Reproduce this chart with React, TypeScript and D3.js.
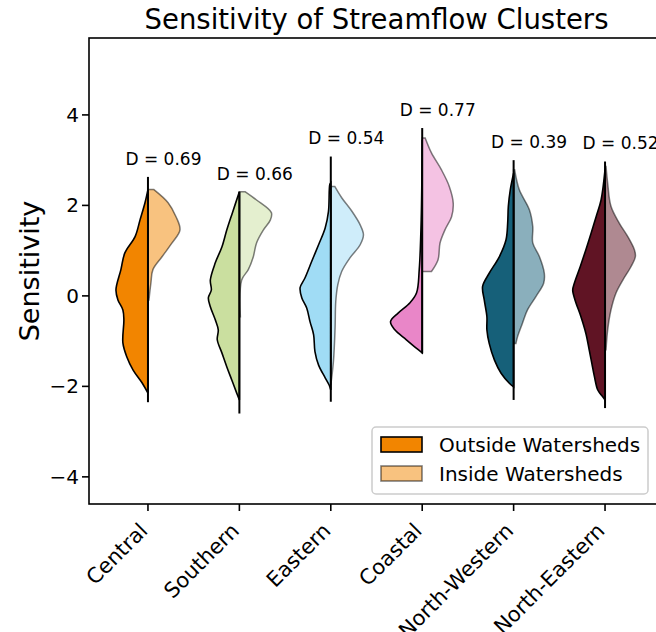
import React from "react";
import { scaleLinear, area, curveCatmullRom } from "d3";

// clusters, in plotting order
const clusters = ["Central", "Southern", "Eastern", "Coastal", "North-Western", "North-Eastern"];
const outsideColors = ["#f28500", "#cadf9f", "#a0dcf5", "#e986c8", "#166079", "#601424"];
const dValues = ["0.69", "0.66", "0.54", "0.77", "0.39", "0.52"];

// [sensitivity, relative density] (outside = left half)
const centralOut = [[2.35, 0], [2.06, 0.09], [1.68, 0.24], [1.31, 0.39], [0.95, 0.7], [0.58, 0.82], [0.13, 0.97], [-0.09, 0.91], [-0.31, 0.76], [-0.53, 0.73], [-1.04, 0.76], [-1.35, 0.64], [-1.64, 0.45], [-1.92, 0.18], [-2.15, 0]];
const centralIn = [[2.35, 0.18], [2.06, 0.61], [1.75, 0.85], [1.46, 0.97], [1.17, 0.73], [0.86, 0.42], [0.58, 0.15], [0.29, 0.09], [-0.09, 0.03]];
const southernOut = [[2.3, 0], [1.84, 0.21], [1.46, 0.38], [1.08, 0.53], [0.73, 0.73], [0.35, 0.88], [0.13, 0.85], [-0.04, 0.94], [-0.24, 0.88], [-0.53, 0.73], [-0.75, 0.64], [-0.97, 0.67], [-1.26, 0.53], [-1.57, 0.38], [-1.86, 0.23], [-2.15, 0.08], [-2.3, 0]];
const southernIn = [[2.3, 0.18], [2.12, 0.52], [1.84, 0.97], [1.68, 0.94], [1.46, 0.73], [1.17, 0.52], [0.86, 0.42], [0.58, 0.27], [0.35, 0.07], [-0.46, 0.03]];
const easternOut = [[2.5, 0], [2.46, 0.03], [1.87, 0.07], [1.5, 0.17], [1.13, 0.37], [0.76, 0.58], [0.4, 0.78], [0.18, 0.93], [-0.04, 0.88], [-0.27, 0.73], [-0.57, 0.63], [-0.86, 0.52], [-1.23, 0.48], [-1.53, 0.37], [-1.81, 0.17], [-1.97, 0.05], [-2.08, 0]];
const easternIn = [[2.42, 0.12], [2.17, 0.33], [1.87, 0.64], [1.57, 0.89], [1.35, 0.99], [1.13, 0.89], [0.84, 0.58], [0.54, 0.33], [0.24, 0.21], [-0.13, 0.15], [-0.71, 0.13], [-1.45, 0.08], [-1.97, 0]];
const coastalOut = [[3.45, 0], [1.68, 0.03], [0.58, 0.09], [0.07, 0.17], [-0.15, 0.37], [-0.38, 0.73], [-0.57, 0.96], [-0.75, 0.83], [-0.97, 0.48], [-1.19, 0.12], [-1.26, 0]];
const coastalIn = [[3.49, 0.09], [3.16, 0.28], [2.79, 0.58], [2.42, 0.82], [2.05, 0.94], [1.75, 0.89], [1.46, 0.69], [1.17, 0.54], [0.8, 0.48], [0.54, 0.28]];
const nwOut = [[2.71, 0], [2.35, 0.1], [1.98, 0.16], [1.61, 0.18], [1.24, 0.23], [0.87, 0.43], [0.5, 0.74], [0.21, 0.94], [-0.09, 0.89], [-0.46, 0.81], [-0.75, 0.81], [-1.05, 0.74], [-1.42, 0.58], [-1.71, 0.38], [-1.93, 0.13], [-2.01, 0]];
const nwIn = [[2.79, 0.03], [2.35, 0.17], [1.9, 0.48], [1.53, 0.58], [1.17, 0.58], [0.87, 0.78], [0.5, 0.93], [0.28, 0.91], [-0.01, 0.68], [-0.31, 0.42], [-0.6, 0.27], [-0.9, 0.12], [-1.05, 0.07]];
const neOut = [[2.79, 0], [2.12, 0.12], [1.75, 0.27], [1.39, 0.42], [1.02, 0.58], [0.65, 0.75], [0.28, 0.93], [0.13, 0.98], [-0.09, 0.91], [-0.46, 0.73], [-0.83, 0.58], [-1.19, 0.48], [-1.49, 0.4], [-1.79, 0.32], [-2.08, 0.22], [-2.23, 0.07], [-2.3, 0]];
const neIn = [[2.86, 0.03], [2.49, 0.08], [1.98, 0.18], [1.61, 0.43], [1.31, 0.69], [1.02, 0.89], [0.87, 0.92], [0.65, 0.79], [0.35, 0.54], [0.06, 0.33], [-0.31, 0.18], [-0.75, 0.08], [-1.19, 0.03]];

const outsideProfiles = [centralOut, southernOut, easternOut, coastalOut, nwOut, neOut];
const insideProfiles = [centralIn, southernIn, easternIn, coastalIn, nwIn, neIn];
// min / max of the central bar
const rangeMin = [-2.35, -2.6, -2.34, -1.27, -2.3, -2.48];
const rangeMax = [2.63, 2.3, 3.08, 3.71, 3.0, 2.97];

const yTicks = [-4, -2, 0, 2, 4];
const legendLabels = ["Outside Watersheds", "Inside Watersheds"];

const W = 656;
const H = 632;
const font = "DejaVu Sans, Verdana, sans-serif";

const fmt = (t: number) => (t < 0 ? "\u2212" + Math.abs(t) : String(t));

const App = () => {
    const x = scaleLinear().domain([-0.645, 5.645]).range([89, 664]);
    const y = scaleLinear().domain([-4.6, 5.7]).range([504, 38]);
    const w = scaleLinear().domain([0, 1]).range([0, 33]);

    const half = (cx: number, side: number) =>
        area<number[]>()
            .y((d) => y(d[0]))
            .x0(cx)
            .x1((d) => cx + side * w(d[1]))
            .curve(curveCatmullRom.alpha(0.5));

    const [left, right] = x.range();
    const [bottom, top] = y.range();

    return (
        <svg width={W} height={H} style={{ display: "block", fontFamily: font }}>
            <style>{`body{margin:0}`}</style>
            <rect width={W} height={H} fill="#fff" />

            {clusters.map((c, i) => {
                const cx = x(i);
                return (
                    <g key={c}>
                        <path
                            d={half(cx, 1)(insideProfiles[i]) || ""}
                            fill={outsideColors[i]}
                            fillOpacity={0.5}
                            stroke="#000"
                            strokeOpacity={0.5}
                            strokeWidth={1.5}
                        />
                        <path
                            d={half(cx, -1)(outsideProfiles[i]) || ""}
                            fill={outsideColors[i]}
                            stroke="#000"
                            strokeWidth={1.6}
                        />
                        <line x1={cx} x2={cx} y1={y(rangeMin[i])} y2={y(rangeMax[i])} stroke="#000" strokeWidth={2} />
                        <text
                            x={cx + 15.5}
                            y={y(rangeMax[i] + 0.27)}
                            textAnchor="middle"
                            fontSize={17}
                            fill="#000"
                        >
                            D = {dValues[i]}
                        </text>
                    </g>
                );
            })}

            {/* axes frame */}
            <rect x={left} y={top} width={right - left} height={bottom - top} fill="none" stroke="#000" strokeWidth={1.6} />

            {yTicks.map((t) => (
                <g key={t}>
                    <line x1={left - 7} x2={left} y1={y(t)} y2={y(t)} stroke="#000" strokeWidth={1.6} />
                    <text x={left - 10} y={y(t)} dy="0.35em" textAnchor="end" fontSize={20} fill="#000">
                        {fmt(t)}
                    </text>
                </g>
            ))}

            {clusters.map((c, i) => (
                <g key={c}>
                    <line x1={x(i)} x2={x(i)} y1={bottom} y2={bottom + 7} stroke="#000" strokeWidth={1.6} />
                    <text transform={`translate(${x(i) + 1},532) rotate(-45)`} textAnchor="end" fontSize={21} fill="#000">
                        {c}
                    </text>
                </g>
            ))}

            <text x={(left + right) / 2} y={29} textAnchor="middle" fontSize={27.5} fill="#000">
                Sensitivity of Streamflow Clusters
            </text>
            <text transform={`translate(39,${(top + bottom) / 2}) rotate(-90)`} textAnchor="middle" fontSize={27} fill="#000">
                Sensitivity
            </text>

            {/* legend */}
            <g>
                <rect x={372} y={427} width={276} height={67} rx={4} fill="#fff" fillOpacity={0.8} stroke="#ccc" strokeWidth={1.5} />
                {legendLabels.map((l, k) => (
                    <g key={l}>
                        <rect
                            x={381}
                            y={437 + k * 29}
                            width={41}
                            height={15}
                            fill={outsideColors[0]}
                            fillOpacity={k === 0 ? 1 : 0.5}
                            stroke="#000"
                            strokeOpacity={k === 0 ? 1 : 0.5}
                            strokeWidth={1.6}
                        />
                        <text x={439} y={452 + k * 29} fontSize={20} fill="#000">
                            {l}
                        </text>
                    </g>
                ))}
            </g>
        </svg>
    );
};

export default App;
